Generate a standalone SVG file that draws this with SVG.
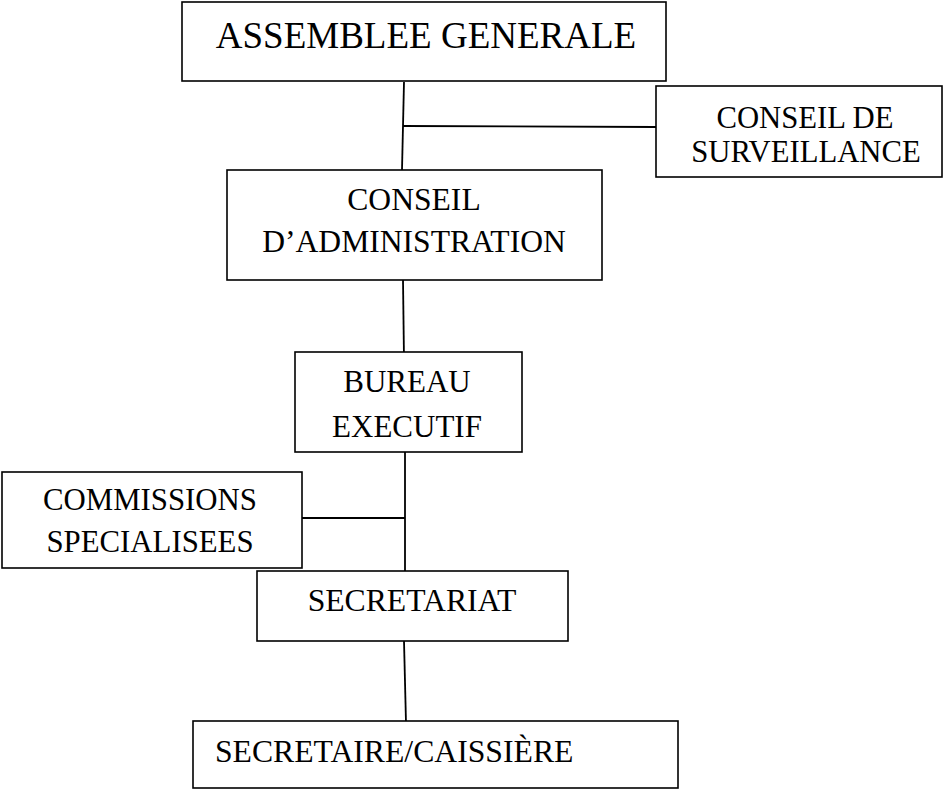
<svg xmlns="http://www.w3.org/2000/svg" width="946" height="789" viewBox="0 0 946 789">
<style>
  .box { fill: #ffffff; stroke: #000000; stroke-width: 1.6; }
  .lbl { font-family: "Liberation Serif", "Times New Roman", serif; fill: #000000; text-anchor: middle; }
  .conn line { stroke: #000000; stroke-width: 1.8; fill: none; }
</style>
<rect width="946" height="789" fill="#ffffff"/>
<g id="connectors" class="conn">
  <line x1="404" y1="82" x2="402" y2="170"/>
  <line x1="403" y1="126" x2="656" y2="127"/>
  <line x1="403" y1="280" x2="404" y2="360"/>
  <line x1="405" y1="452" x2="405" y2="578"/>
  <line x1="302" y1="518" x2="405" y2="518"/>
  <line x1="404" y1="641" x2="406" y2="723"/>
</g>
<g id="assemblee">
  <rect class="box" x="182" y="2" width="484" height="79"/>
  <text class="lbl" x="426" y="48" font-size="37">ASSEMBLEE GENERALE</text>
</g>
<g id="surveillance">
  <rect class="box" x="656" y="86" width="286" height="91"/>
  <text class="lbl" x="805" y="128" font-size="30.7">CONSEIL DE</text>
  <text class="lbl" x="806" y="162" font-size="30.7">SURVEILLANCE</text>
</g>
<g id="administration">
  <rect class="box" x="227" y="170" width="375" height="110"/>
  <text class="lbl" x="414" y="210" font-size="31.6">CONSEIL</text>
  <text class="lbl" x="414" y="252" font-size="31.6">D’ADMINISTRATION</text>
</g>
<g id="bureau">
  <rect class="box" x="295" y="352" width="227" height="100"/>
  <text class="lbl" x="407" y="392" font-size="31">BUREAU</text>
  <text class="lbl" x="407" y="437" font-size="31">EXECUTIF</text>
</g>
<g id="commissions">
  <rect class="box" x="2" y="472" width="300" height="96"/>
  <text class="lbl" x="150" y="510" font-size="30.8">COMMISSIONS</text>
  <text class="lbl" x="150" y="552" font-size="30.8">SPECIALISEES</text>
</g>
<g id="secretariat">
  <rect class="box" x="257" y="571" width="311" height="70"/>
  <text class="lbl" x="412" y="611" font-size="31.7">SECRETARIAT</text>
</g>
<g id="secretaire">
  <rect class="box" x="193" y="721" width="485" height="67"/>
  <text class="lbl" x="215" y="762" font-size="31.7" style="text-anchor:start">SECRETAIRE/CAISSIÈRE</text>
</g>
</svg>
